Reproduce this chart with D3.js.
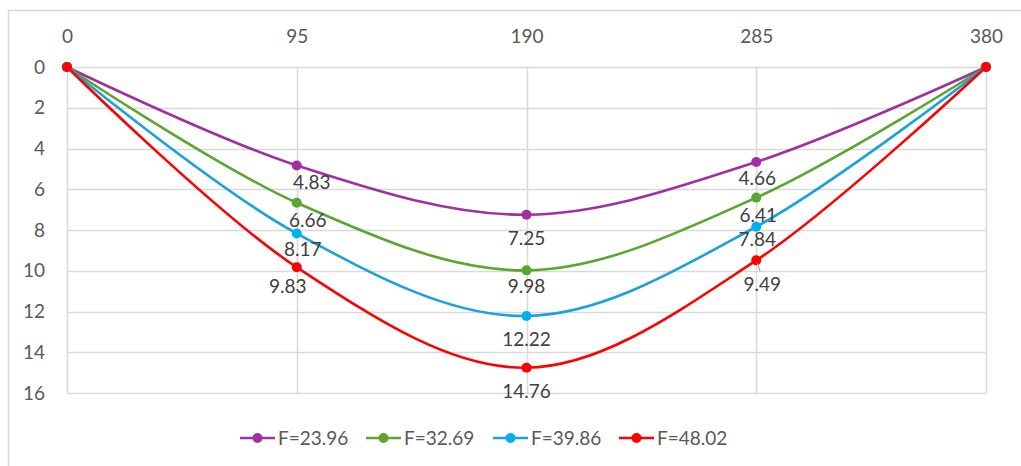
<!DOCTYPE html>
<html><head><meta charset="utf-8">
<script src="https://cdn.jsdelivr.net/npm/d3@7"></script>
<style>
html,body{margin:0;padding:0;background:#fff;}
svg{display:block;font-family:Lato, "Open Sans", sans-serif;}
</style></head>
<body>
<svg id="chart" width="1021" height="466"></svg>
<script>
const categories = [0, 95, 190, 285, 380];
const seriesNames = ["F=23.96", "F=32.69", "F=39.86", "F=48.02"];
const valuesF1 = [0, 4.83, 7.25, 4.66, 0];
const valuesF2 = [0, 6.66, 9.98, 6.41, 0];
const valuesF3 = [0, 8.17, 12.22, 7.84, 0];
const valuesF4 = [0, 9.83, 14.76, 9.49, 0];
const yTicks = [0, 2, 4, 6, 8, 10, 12, 14, 16];

const colors = ["#A0309F", "#5BA531", "#1AA3DB", "#FF0000"];
const markerColors = ["#A0309F", "#5BA531", "#00B0F0", "#FF0000"];
const series = [valuesF1, valuesF2, valuesF3, valuesF4].map((v, i) => ({name: seriesNames[i], values: v, color: colors[i], mcolor: markerColors[i]}));

// label offsets [dx, dy] for each series at each category (layout)
const labelOffsets = [
  [null, [15, 17], [0, 23], [1, 16], null],
  [null, [11, 17], [0, 16], [2, 18], null],
  [null, [6, 16], [0, 23], [1, 12], null],
  [null, [-9, 19], [0, 23], [6, 24], null]
];

const svg = d3.select("#chart");
const textColor = "#595959";
const gridColor = "#D9D9D9";

// outer border
svg.append("rect").attr("x", 8.5).attr("y", 10.5).attr("width", 1030).attr("height", 470)
  .attr("fill", "none").attr("stroke", gridColor).attr("stroke-width", 1.5);

const x = d3.scalePoint().domain(categories).range([67, 986]);
const y = d3.scaleLinear().domain([0, 16]).range([67, 393]);

// horizontal gridlines
svg.append("g").selectAll("line").data(yTicks).join("line")
  .attr("x1", 67).attr("x2", 986)
  .attr("y1", d => Math.round(y(d)) + 0.5).attr("y2", d => Math.round(y(d)) + 0.5)
  .attr("stroke", gridColor).attr("stroke-width", 1.5);
// vertical gridlines
svg.append("g").selectAll("line").data(categories).join("line")
  .attr("x1", d => Math.round(x(d)) + 0.5).attr("x2", d => Math.round(x(d)) + 0.5)
  .attr("y1", y(0)).attr("y2", y(16))
  .attr("stroke", gridColor).attr("stroke-width", 1.5);

// y axis labels
const yAxis = d3.axisLeft(y).tickValues(yTicks).tickSize(0).tickPadding(0);
const gy = svg.append("g").attr("transform", "translate(45,0)").call(yAxis);
gy.select(".domain").remove();
gy.selectAll("text").attr("fill", textColor).style("font-size", "19px").style("font-family", "Lato, sans-serif");

// x axis labels at top
const xAxis = d3.axisTop(x).tickSize(0).tickPadding(0);
const gx = svg.append("g").attr("transform", "translate(0,43)").call(xAxis);
gx.select(".domain").remove();
gx.selectAll("text").attr("fill", textColor).style("font-size", "19px").style("font-family", "Lato, sans-serif");

// lines
const line = d3.line().x((d, i) => x(categories[i])).y(d => y(d)).curve(d3.curveCatmullRom.alpha(0));
series.forEach((s, si) => {
  svg.append("path").datum(s.values).attr("d", line)
    .attr("fill", "none").attr("stroke", s.color).attr("stroke-width", 2.6);
});
series.forEach((s, si) => {
  svg.append("g").selectAll("circle").data(s.values).join("circle")
    .attr("cx", (d, i) => x(categories[i])).attr("cy", d => y(d)).attr("r", 5)
    .attr("fill", s.mcolor);
});

// leader line for 9.49
svg.append("line").attr("x1", x(285) + 1).attr("y1", y(valuesF4[3]) + 3)
  .attr("x2", x(285) + 4).attr("y2", y(valuesF4[3]) + 11)
  .attr("stroke", "#A6A6A6").attr("stroke-width", 1.2);

// data labels
series.forEach((s, si) => {
  svg.append("g").selectAll("text").data(s.values.map((v, i) => ({v, i})).filter(d => labelOffsets[si][d.i]))
    .join("text")
    .attr("x", d => x(categories[d.i]) + labelOffsets[si][d.i][0])
    .attr("y", d => y(d.v) + labelOffsets[si][d.i][1])
    .attr("dy", "0.36em")
    .attr("text-anchor", "middle")
    .attr("fill", "#404040").style("font-size", "19px")
    .text(d => d3.format(".2f")(d.v));
});

// legend
const legendX = [240, 366, 493, 619];
const legendY = 438;
const lg = svg.append("g");
series.forEach((s, i) => {
  const g = lg.append("g").attr("transform", `translate(${legendX[i]},${legendY})`);
  g.append("line").attr("x1", 0).attr("x2", 35).attr("y1", 0).attr("y2", 0)
    .attr("stroke", s.color).attr("stroke-width", 2.6);
  g.append("circle").attr("cx", 17.5).attr("cy", 0).attr("r", 5).attr("fill", s.mcolor);
  g.append("text").attr("x", 38).attr("y", 0).attr("dy", "0.36em")
    .attr("fill", textColor).style("font-size", "19px").text(s.name);
});
</script>
</body></html>
